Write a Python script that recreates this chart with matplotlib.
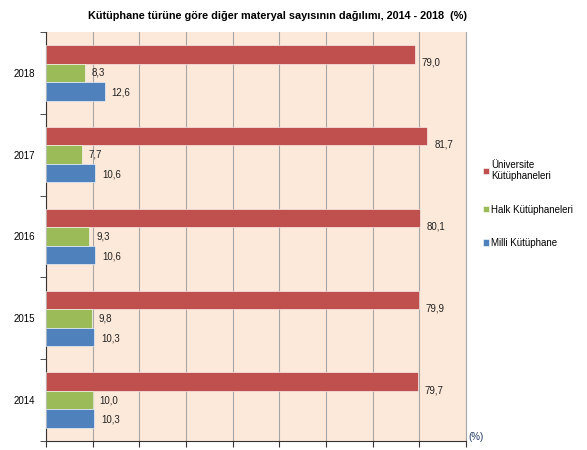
import matplotlib.pyplot as plt
import numpy as np

plt.rcParams['font.family'] = ['Liberation Sans', 'DejaVu Sans']

# Veriler
yillar = ['2014', '2015', '2016', '2017', '2018']
universite = [79.7, 79.9, 80.1, 81.7, 79.0]
halk = [10.0, 9.8, 9.3, 7.7, 8.3]
milli = [10.3, 10.3, 10.6, 10.6, 12.6]

seriler = [
    ('Üniversite\nKütüphaneleri', universite, '#C0504D'),
    ('Halk Kütüphaneleri', halk, '#9BBB59'),
    ('Milli Kütüphane', milli, '#4F81BD'),
]

fig = plt.figure(figsize=(5.87, 4.5), dpi=100)
ax = fig.add_axes([46 / 587, 1 - 441 / 450, 420 / 587, 409 / 450])
ax.set_facecolor('#FDE9D9')

y = np.arange(len(yillar))
h = 0.225
ofsetler = [h, 0, -h]

for (ad, degerler, renk), of in zip(seriler, ofsetler):
    bars = ax.barh(y + of, degerler, height=h, color=renk, label=ad,
                   edgecolor='white', linewidth=0.4, zorder=3)
    for b, v in zip(bars, degerler):
        dy = -6 if of > 0 else (0 if of == 0 else -1)
        ax.annotate(f'{v:.1f}'.replace('.', ','),
                    (b.get_width(), b.get_y() + b.get_height() / 2),
                    xytext=(5, dy), textcoords='offset points',
                    ha='left', va='center', fontsize=7, color='#222222')

ax.set_xlim(0, 90)
ax.set_ylim(-0.5, len(yillar) - 0.5)
ax.set_xticks(np.arange(0, 91, 10))
ax.set_xticklabels([])
ax.tick_params(axis='x', direction='out', length=4, color='#333333')
ax.grid(axis='x', color='#A6A6A6', linewidth=0.8, zorder=0)

ax.set_yticks(y)
ax.set_yticklabels(yillar, fontsize=7)
ax.set_yticks(np.arange(-0.5, len(yillar), 1), minor=True)
ax.tick_params(axis='y', which='major', length=0, pad=8)
ax.tick_params(axis='y', which='minor', length=4, direction='out', color='#333333')

ax.spines['top'].set_visible(False)
ax.spines['right'].set_color('#A6A6A6')
ax.spines['left'].set_color('#333333')
ax.spines['bottom'].set_color('#333333')

fig.text(468 / 587, 1 - 437 / 450, '(%)', fontsize=7, color='#1F3864', va='center')

fig.suptitle('Kütüphane türüne göre diğer materyal sayısının dağılımı, 2014 - 2018  (%)',
             fontsize=7.8, fontweight='bold', x=277 / 587, y=1 - 16 / 450, va='center')

ax.legend(loc='center left', bbox_to_anchor=(1.02, 0.58), frameon=False,
          fontsize=7, handlelength=0.6, handleheight=0.6, handletextpad=0.25,
          labelspacing=2.4)

fig.savefig('out.png', dpi=100)
